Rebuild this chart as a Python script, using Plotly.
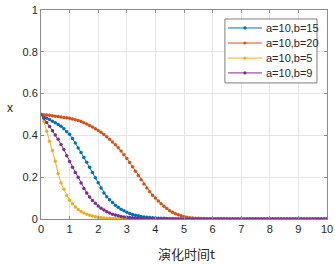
import numpy as np
import plotly.graph_objects as go

# sample times 0, 0.1, ..., 10
t = np.round(np.arange(0, 10.0001, 0.1), 1).tolist()

series_names = ["a=10,b=15", "a=10,b=20", "a=10,b=5", "a=10,b=9"]
colors = ["#0072BD", "#D95319", "#EDB120", "#7E2F8E"]

x_b15 = [
    0.500, 0.491, 0.482, 0.476, 0.468, 0.460, 0.452, 0.444, 0.432, 0.418,
    0.405, 0.385, 0.364, 0.340, 0.318, 0.294, 0.272, 0.248, 0.222, 0.197,
    0.174, 0.148, 0.124, 0.106, 0.092, 0.079, 0.066, 0.056, 0.047, 0.039,
    0.032, 0.026, 0.022, 0.018, 0.015, 0.012, 0.010, 0.008, 0.007, 0.006,
    0.005, 0.004, 0.003, 0.003, 0.002, 0.002, 0.002, 0.001, 0.001, 0.001,
    0.001, 0.001, 0.001, 0.001, 0.001, 0, 0, 0, 0, 0,
    0, 0, 0, 0, 0, 0, 0, 0, 0, 0,
    0, 0, 0, 0, 0, 0, 0, 0, 0, 0,
    0, 0, 0, 0, 0, 0, 0, 0, 0, 0,
    0, 0, 0, 0, 0, 0, 0, 0, 0, 0,
    0,
]

x_b20 = [
    0.500, 0.499, 0.498, 0.496, 0.494, 0.492, 0.490, 0.488, 0.486, 0.484,
    0.482, 0.479, 0.475, 0.471, 0.466, 0.460, 0.454, 0.447, 0.440, 0.432,
    0.424, 0.415, 0.404, 0.393, 0.381, 0.368, 0.355, 0.341, 0.325, 0.308,
    0.290, 0.270, 0.250, 0.229, 0.208, 0.188, 0.168, 0.148, 0.130, 0.114,
    0.100, 0.086, 0.073, 0.061, 0.050, 0.040, 0.032, 0.025, 0.020, 0.015,
    0.011, 0.008, 0.006, 0.005, 0.004, 0.003, 0.002, 0.002, 0.001, 0.001,
    0.001, 0.001, 0.001, 0.001, 0.001, 0, 0, 0, 0, 0,
    0, 0, 0, 0, 0, 0, 0, 0, 0, 0,
    0, 0, 0, 0, 0, 0, 0, 0, 0, 0,
    0, 0, 0, 0, 0, 0, 0, 0, 0, 0,
    0,
]

x_b5 = [
    0.500, 0.468, 0.420, 0.372, 0.328, 0.276, 0.218, 0.172, 0.142, 0.113,
    0.090, 0.073, 0.058, 0.046, 0.036, 0.029, 0.023, 0.018, 0.014, 0.011,
    0.008, 0.006, 0.005, 0.004, 0.003, 0.002, 0.002, 0.001, 0.001, 0.001,
    0, 0, 0, 0, 0, 0, 0, 0, 0, 0,
    0, 0, 0, 0, 0, 0, 0, 0, 0, 0,
    0, 0, 0, 0, 0, 0, 0, 0, 0, 0,
    0, 0, 0, 0, 0, 0, 0, 0, 0, 0,
    0, 0, 0, 0, 0, 0, 0, 0, 0, 0,
    0, 0, 0, 0, 0, 0, 0, 0, 0, 0,
    0, 0, 0, 0, 0, 0, 0, 0, 0, 0,
    0,
]

x_b9 = [
    0.500, 0.482, 0.462, 0.443, 0.422, 0.402, 0.381, 0.357, 0.332, 0.303,
    0.275, 0.248, 0.223, 0.200, 0.172, 0.146, 0.124, 0.105, 0.089, 0.075,
    0.062, 0.052, 0.043, 0.035, 0.029, 0.023, 0.019, 0.015, 0.012, 0.010,
    0.008, 0.007, 0.006, 0.005, 0.004, 0.003, 0.003, 0.002, 0.002, 0.002,
    0.001, 0.001, 0.001, 0.001, 0.001, 0, 0, 0, 0, 0,
    0, 0, 0, 0, 0, 0, 0, 0, 0, 0,
    0, 0, 0, 0, 0, 0, 0, 0, 0, 0,
    0, 0, 0, 0, 0, 0, 0, 0, 0, 0,
    0, 0, 0, 0, 0, 0, 0, 0, 0, 0,
    0, 0, 0, 0, 0, 0, 0, 0, 0, 0,
    0,
]

x_ticks = [0, 1, 2, 3, 4, 5, 6, 7, 8, 9, 10]
y_ticks = [0, 0.2, 0.4, 0.6, 0.8, 1]
y_tick_labels = ["0", "0.2", "0.4", "0.6", "0.8", "1"]
x_title = "演化时间t"
y_title = "x"

FONT = "Liberation Sans, Arial, sans-serif"
TXT = "#262626"

fig = go.Figure()
for name, ys, c in zip(series_names, [x_b15, x_b20, x_b5, x_b9], colors):
    fig.add_trace(go.Scatter(
        x=t, y=ys, name=name, mode="lines+markers",
        line=dict(color=c, width=1),
        marker=dict(color=c, size=3.5, symbol="circle"),
        showlegend=False,
    ))

axis_common = dict(
    showgrid=True, gridcolor="#e5e5e5", gridwidth=1,
    showline=True, linecolor="#8c8c8c", linewidth=1, mirror="ticks",
    ticks="inside", ticklen=3, tickcolor="#8c8c8c",
    zeroline=False, automargin=False,
    tickfont=dict(family=FONT, size=11, color=TXT),
)

# manual legend box (paper coordinates)
shapes = [dict(type="rect", xref="paper", yref="paper",
               x0=0.643, x1=0.965, y0=0.651, y1=0.957,
               line=dict(color="#7f7f7f", width=1), fillcolor="white", layer="above")]
annotations = []
row_y = [0.914, 0.842, 0.770, 0.699]
for name, c, yy in zip(series_names, colors, row_y):
    shapes.append(dict(type="line", xref="paper", yref="paper",
                       x0=0.654, x1=0.773, y0=yy, y1=yy,
                       line=dict(color=c, width=1), layer="above"))
    shapes.append(dict(type="circle", xref="paper", yref="paper",
                       xsizemode="pixel", ysizemode="pixel",
                       xanchor=0.713, yanchor=yy, x0=-1.6, x1=1.6, y0=-1.6, y1=1.6,
                       fillcolor=c, line=dict(color=c, width=0), layer="above"))
    annotations.append(dict(text=name, xref="paper", yref="paper",
                            x=0.781, y=yy, xanchor="left", yanchor="middle",
                            showarrow=False, font=dict(family=FONT, size=11, color=TXT)))

annotations.append(dict(text=x_title, xref="paper", yref="paper",
                        x=0.507, y=-0.163, xanchor="center", yanchor="middle",
                        showarrow=False,
                        font=dict(family="Noto Sans CJK SC, sans-serif", size=13, color=TXT)))
annotations.append(dict(text=y_title, xref="paper", yref="paper",
                        x=-0.108, y=0.531, xanchor="center", yanchor="middle",
                        showarrow=False, font=dict(family=FONT, size=12, color=TXT)))

fig.update_layout(
    width=335, height=264,
    margin=dict(l=41, r=8, t=10, b=45),
    paper_bgcolor="white", plot_bgcolor="white",
    showlegend=False,
    hovermode=False,
    shapes=shapes,
    annotations=annotations,
    xaxis=dict(range=[0, 10], tickvals=x_ticks, **axis_common),
    yaxis=dict(range=[0, 1], tickvals=y_ticks, ticktext=y_tick_labels, **axis_common),
)

fig.write_html(
    "out.html",
    config={"displayModeBar": False},
    post_script="document.body.style.margin='0';document.body.style.overflow='hidden';",
)
